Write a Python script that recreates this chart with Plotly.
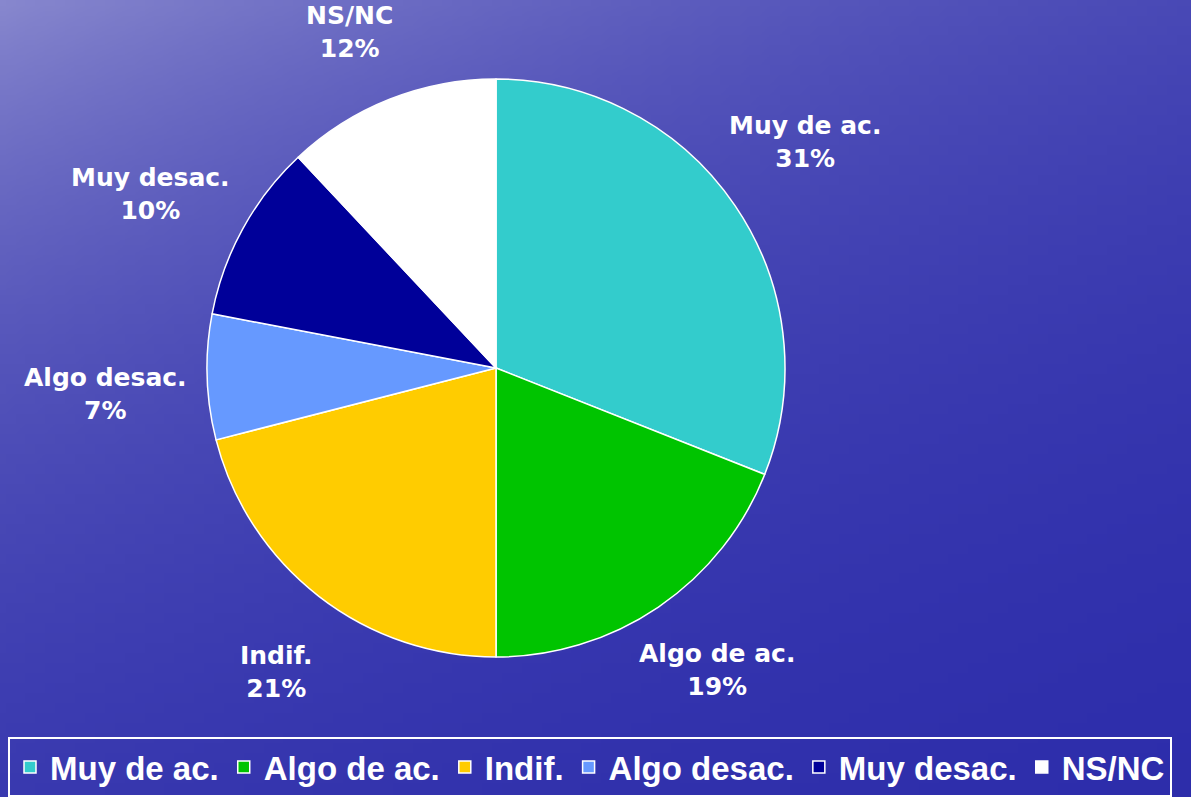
import base64, math, struct, zlib
import plotly.graph_objects as go

# ---- data ----
categories = ["Muy de ac.", "Algo de ac.", "Indif.", "Algo desac.", "Muy desac.", "NS/NC"]
values = [31, 19, 21, 7, 10, 12]
colors = ["#33CCCC", "#00C400", "#FFCC00", "#6699FF", "#000099", "#FFFFFF"]

W, H = 1191, 797

# ---- background gradient (generated PNG) ----
def make_png(w, h):
    rows = []
    for j in range(h):
        y = j / (h - 1)
        row = bytearray([0])
        for i in range(w):
            x = i / (w - 1)
            g = math.exp(-(1.0 * x + 1.6 * y))
            rg = int(38 + 97 * g)
            b = int(168 + 38 * g)
            row += bytes([rg, rg, b])
        rows.append(bytes(row))
    raw = b"".join(rows)

    def chunk(t, d):
        c = struct.pack(">I", len(d)) + t + d
        return c + struct.pack(">I", zlib.crc32(t + d) & 0xFFFFFFFF)

    png = b"\x89PNG\r\n\x1a\n"
    png += chunk(b"IHDR", struct.pack(">IIBBBBB", w, h, 8, 2, 0, 0, 0))
    png += chunk(b"IDAT", zlib.compress(raw, 9))
    png += chunk(b"IEND", b"")
    return "data:image/png;base64," + base64.b64encode(png).decode()

bg = make_png(120, 80)

# ---- pie geometry ----
cx, cy, R = 496, 368, 289
dom_x = [(cx - R) / W, (cx + R) / W]
dom_y = [(H - cy - R) / H, (H - cy + R) / H]

fig = go.Figure()
fig.add_trace(go.Pie(
    labels=categories,
    values=values,
    marker=dict(colors=colors, line=dict(color="white", width=1.5)),
    sort=False,
    direction="clockwise",
    rotation=0,
    textinfo="none",
    hoverinfo="label+percent",
    domain=dict(x=dom_x, y=dom_y),
    showlegend=True,
))

# ---- outside labels, placed along each slice bisector ----
total = sum(values)
annotations = []
cum = 0
for cat, v in zip(categories, values):
    mid = (cum + v / 2) / total * 2 * math.pi - math.radians(2)
    cum += v
    ux, uy = math.sin(mid), -math.cos(mid)
    dist = R + 62 + 40 * abs(ux)
    lx = cx + dist * ux
    ly = cy + dist * uy
    pct = round(v / total * 100)
    annotations.append(dict(
        text=f"{cat}<br>{pct}%",
        x=lx / W, y=1 - ly / H, xref="paper", yref="paper",
        showarrow=False, xanchor="center", yanchor="middle", align="center",
        font=dict(family="DejaVu Sans", size=25, color="white", weight="bold"),
    ))

fig.update_layout(
    width=W, height=H,
    margin=dict(l=0, r=0, t=0, b=0),
    paper_bgcolor="#3a3ab4",
    plot_bgcolor="rgba(0,0,0,0)",
    images=[dict(source=bg, xref="paper", yref="paper", x=0, y=1, sizex=1, sizey=1,
                 sizing="stretch", layer="below", xanchor="left", yanchor="top")],
    annotations=annotations,
    legend=dict(
        orientation="h", x=8 / W, y=0, xanchor="left", yanchor="bottom",
        bgcolor="rgba(0,0,0,0)", bordercolor="white", borderwidth=2,
        font=dict(family="Liberation Sans", size=33, color="white", weight="bold"),
        itemwidth=30, traceorder="normal",
    ),
)

fig.write_html(
    "out.html",
    config={"displayModeBar": False},
    post_script="document.body.style.margin='0';document.body.style.overflow='hidden';",
)
